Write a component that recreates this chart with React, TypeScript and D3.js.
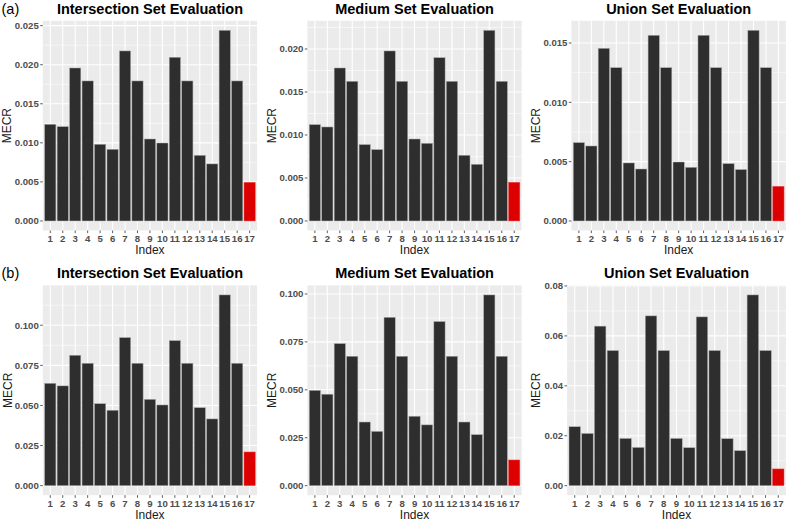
import React from "react";
import * as d3 from "d3";

const indexLabels = ["1","2","3","4","5","6","7","8","9","10","11","12","13","14","15","16","17"];

const intersectionA = [0.01237, 0.01207, 0.01958, 0.01792, 0.00981, 0.00917, 0.02176, 0.01792, 0.01049, 0.00998, 0.02095, 0.01792, 0.0084, 0.0073, 0.0244, 0.01792, 0.00495];
const mediumA = [0.0112, 0.01093, 0.01779, 0.01624, 0.00888, 0.0083, 0.01977, 0.01624, 0.00953, 0.00903, 0.01899, 0.01624, 0.00764, 0.00659, 0.02217, 0.01624, 0.0045];
const unionA = [0.0066, 0.00632, 0.01455, 0.01292, 0.00489, 0.00438, 0.01565, 0.01292, 0.00497, 0.00452, 0.01565, 0.01292, 0.00483, 0.00433, 0.01607, 0.01292, 0.00292];
const intersectionB = [0.0638, 0.0622, 0.0813, 0.0763, 0.0511, 0.047, 0.0923, 0.0763, 0.0538, 0.0503, 0.0904, 0.0763, 0.0486, 0.0416, 0.1189, 0.0763, 0.021];
const mediumB = [0.0497, 0.0477, 0.0741, 0.0675, 0.0332, 0.0283, 0.0878, 0.0675, 0.0362, 0.0317, 0.0856, 0.0675, 0.0332, 0.0266, 0.0995, 0.0675, 0.0134];
const unionB = [0.0236, 0.0209, 0.0639, 0.0541, 0.0189, 0.0153, 0.068, 0.0541, 0.0189, 0.0152, 0.0676, 0.0541, 0.0188, 0.014, 0.0764, 0.0541, 0.0067];

const ticksIntersectionA = [0, 0.005, 0.01, 0.015, 0.02, 0.025];
const ticksMediumA = [0, 0.005, 0.01, 0.015, 0.02];
const ticksUnionA = [0, 0.005, 0.01, 0.015];
const ticksB = [0, 0.025, 0.05, 0.075, 0.1];
const ticksUnionB = [0, 0.02, 0.04, 0.06, 0.08];

const FONT = "'Liberation Sans', Arial, Helvetica, sans-serif";

type PanelProps = {
  left: number;
  width: number;
  top: number;
  bottom: number;
  title: string;
  values: number[];
  ticks: number[];
  fmt: string;
  ylabOffset: number;
  tag?: string;
  tagX?: number;
};

function Panel(p: PanelProps) {
  const maxV = d3.max(p.values) as number;
  const x = d3
    .scaleBand<string>()
    .domain(indexLabels)
    .range([p.left, p.left + p.width])
    .paddingInner(0.1)
    .paddingOuter(0.15);
  const y = d3
    .scaleLinear()
    .domain([-0.05 * maxV, 1.05 * maxV])
    .range([p.bottom, p.top]);
  const format = d3.format(p.fmt);
  const step = p.ticks[1] - p.ticks[0];
  const dom = y.domain();
  const minor: number[] = [];
  for (let i = -1; i < p.ticks.length; i++) {
    const m = (i < 0 ? p.ticks[0] - step : p.ticks[i]) + step / 2;
    if (m > dom[0] && m < dom[1]) minor.push(m);
  }
  const bw = x.bandwidth();
  const cx = p.left + p.width / 2;
  const cy = (p.top + p.bottom) / 2;
  return (
    <g>
      <rect x={p.left} y={p.top} width={p.width} height={p.bottom - p.top} fill="#EBEBEB" />
      {minor.map((m, i) => (
        <line key={"mn" + i} x1={p.left} x2={p.left + p.width} y1={y(m)} y2={y(m)} stroke="#ffffff" strokeWidth={0.55} />
      ))}
      {p.ticks.map((t, i) => (
        <line key={"mj" + i} x1={p.left} x2={p.left + p.width} y1={y(t)} y2={y(t)} stroke="#ffffff" strokeWidth={1.1} />
      ))}
      {indexLabels.map((c) => (
        <line key={"vx" + c} x1={(x(c) as number) + bw / 2} x2={(x(c) as number) + bw / 2} y1={p.top} y2={p.bottom} stroke="#ffffff" strokeWidth={1.1} />
      ))}
      {p.values.map((v, i) => (
        <rect
          key={"b" + i}
          x={x(indexLabels[i]) as number}
          y={y(v)}
          width={bw}
          height={y(0) - y(v)}
          fill={i === p.values.length - 1 ? "#DD0000" : "#2E2E2E"}
          stroke={i === p.values.length - 1 ? "#E85050" : "#A8A8A8"}
          strokeWidth={0.5}
        />
      ))}
      {p.ticks.map((t, i) => (
        <g key={"yt" + i}>
          <line x1={p.left - 2.6} x2={p.left} y1={y(t)} y2={y(t)} stroke="#333333" strokeWidth={0.8} />
          <text x={p.left - 4} y={y(t)} dy="0.35em" textAnchor="end" fontSize={9.6} fill="#4D4D4D" fontFamily={FONT} fontWeight="bold">
            {format(t)}
          </text>
        </g>
      ))}
      {indexLabels.map((c) => (
        <g key={"xt" + c}>
          <line x1={(x(c) as number) + bw / 2} x2={(x(c) as number) + bw / 2} y1={p.bottom} y2={p.bottom + 2.6} stroke="#333333" strokeWidth={0.8} />
          <text x={(x(c) as number) + bw / 2} y={p.bottom + 11.3} textAnchor="middle" fontSize={9.6} fill="#4D4D4D" fontFamily={FONT} fontWeight="bold">
            {c}
          </text>
        </g>
      ))}
      <text x={cx} y={p.bottom + 23.8} textAnchor="middle" fontSize={12} fill="#1a1a1a" fontFamily={FONT}>
        Index
      </text>
      <text
        transform={`translate(${p.left - p.ylabOffset},${cy}) rotate(-90)`}
        textAnchor="middle"
        dy="0.35em"
        fontSize={12}
        fill="#1a1a1a"
        fontFamily={FONT}
      >
        MECR
      </text>
      <text x={cx} y={p.top - 7.3} textAnchor="middle" fontSize={14.5} fontWeight="bold" fill="#000" fontFamily={FONT}>
        {p.title}
      </text>
      {p.tag ? (
        <text x={p.tagX} y={p.top - 7.3} fontSize={14.5} fill="#000" fontFamily={FONT}>
          {p.tag}
        </text>
      ) : null}
    </g>
  );
}

export default function App() {
  const topT = 20.8, topB = 230.5;
  const botT = 285.4, botB = 495.2;
  return (
    <svg width={788} height={521} style={{ position: "absolute", left: 0, top: 0, display: "block", background: "#fff" }}>
      <rect x={0} y={0} width={788} height={521} fill="#ffffff" />
      <Panel left={42.8} width={214.3} top={topT} bottom={topB} title="Intersection Set Evaluation" values={intersectionA} ticks={ticksIntersectionA} fmt=".3f" ylabOffset={35.7} tag="(a)" tagX={1.5} />
      <Panel left={307.4} width={214.3} top={topT} bottom={topB} title="Medium Set Evaluation" values={mediumA} ticks={ticksMediumA} fmt=".3f" ylabOffset={35.5} />
      <Panel left={571.4} width={214.5} top={topT} bottom={topB} title="Union Set Evaluation" values={unionA} ticks={ticksUnionA} fmt=".3f" ylabOffset={35.7} />
      <Panel left={42.8} width={214.3} top={botT} bottom={botB} title="Intersection Set Evaluation" values={intersectionB} ticks={ticksB} fmt=".3f" ylabOffset={35.5} tag="(b)" tagX={1.5} />
      <Panel left={307.4} width={214.3} top={botT} bottom={botB} title="Medium Set Evaluation" values={mediumB} ticks={ticksB} fmt=".3f" ylabOffset={35.5} />
      <Panel left={567.1} width={218.8} top={botT} bottom={botB} title="Union Set Evaluation" values={unionB} ticks={ticksUnionB} fmt=".2f" ylabOffset={31.4} />
    </svg>
  );
}
